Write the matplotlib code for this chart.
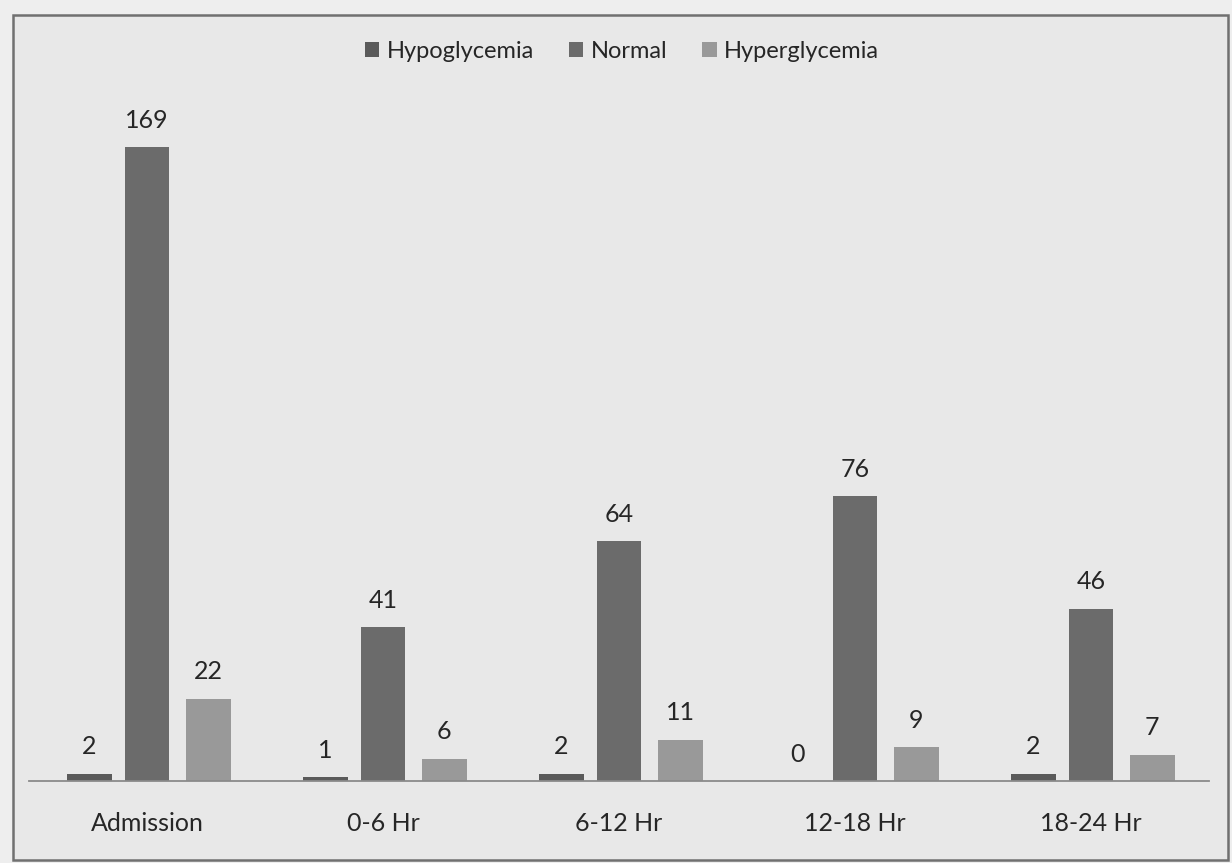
import matplotlib.pyplot as plt
import numpy as np
from matplotlib.patches import Rectangle

# glucose status counts per time window
categories = ['Admission', '0-6 Hr', '6-12 Hr', '12-18 Hr', '18-24 Hr']
series_names = ['Hypoglycemia', 'Normal', 'Hyperglycemia']
hypoglycemia = [2, 1, 2, 0, 2]
normal = [169, 41, 64, 76, 46]
hyperglycemia = [22, 6, 11, 9, 7]

colors = ['#5a5a5a', '#6b6b6b', '#999999']
plt.rcParams['font.family'] = ['Lato', 'DejaVu Sans']

W, H = 1232, 863
fig = plt.figure(figsize=(W / 100, H / 100), dpi=100)
fig.patch.set_facecolor('#eeeeee')

# chart frame, kept behind the axes
fig.patches.append(Rectangle((13 / W, 1 - 860 / H), 1215 / W, 845 / H,
                             transform=fig.transFigure, facecolor='#e8e8e8',
                             edgecolor='#707070', linewidth=1.8, zorder=-1))

ax = fig.add_axes([29 / W, 1 - 781 / H, 1180 / W, 675 / H])
ax.set_facecolor('none')
ax.set_zorder(1)

x = np.arange(len(categories))
width = 0.19
offsets = [-0.245, 0, 0.26]
for vals, name, col, off in zip([hypoglycemia, normal, hyperglycemia],
                                series_names, colors, offsets):
    bars = ax.bar(x + off, vals, width, color=col, label=name)
    ax.bar_label(bars, padding=11, fontsize=18, color='#262626')

ax.set_xlim(-0.5, len(categories) - 0.5)
ax.set_ylim(0, 180)
for s in ['top', 'left', 'right']:
    ax.spines[s].set_visible(False)
ax.spines['bottom'].set_color('#8a8a8a')
ax.spines['bottom'].set_linewidth(1.3)
ax.set_yticks([])
ax.set_xticks(x)
ax.set_xticklabels(categories, fontsize=18, color='#262626')
ax.tick_params(axis='x', length=0, pad=22)

fig.legend(loc='center', bbox_to_anchor=(622 / W, 1 - 51 / H), ncol=3,
           frameon=False, fontsize=17, handlelength=0.6, handleheight=0.6,
           handletextpad=0.3, columnspacing=1.5, labelcolor='#262626')

fig.savefig('out.png', dpi=100, facecolor=fig.get_facecolor())
